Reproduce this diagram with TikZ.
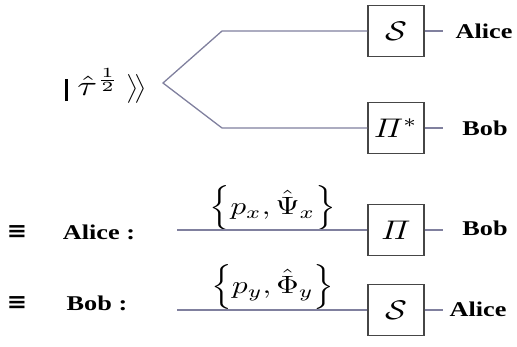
\documentclass[tikz,border=0pt]{standalone}
\usepackage{fontspec}
\setmainfont{Liberation Serif}
\newfontfamily\dejavu{DejaVu Sans}
\usepackage{amsmath,amssymb}
\definecolor{wirec}{RGB}{128,128,158}
\definecolor{gatec}{RGB}{70,70,70}
\newcommand{\wx}[1]{\scalebox{1.25}[1]{#1}}
\newcommand{\wm}[1]{\scalebox{3.2}[2.7]{#1}}
\tikzset{
 wire/.style={draw=wirec, line width=1.3pt},
 gate/.style={draw=gatec, line width=1.2pt, minimum width=56pt, minimum height=51pt, inner sep=0pt, fill=white},
 lab/.style={font=\bfseries\fontsize{21}{25}\selectfont, inner sep=0pt},
 eqv/.style={font=\dejavu\bfseries\fontsize{22}{26}\selectfont, inner sep=0pt},
 mlab/.style={inner sep=0pt},
}
\begin{document}
\begin{tikzpicture}[x=1pt,y=-1pt]
\useasboundingbox (0,0) rectangle (517,346);
% top part
\node[mlab] (ket) at (106,86) {\rule[-6pt]{3.4pt}{22pt}\hspace{9pt}\scalebox{3.6}[2.8]{$\hat{\tau}^{\frac{1}{2}}$}\hspace{7pt}\scalebox{2.6}[2.4]{$\big\rangle\!\big\rangle$}};
\coordinate (v) at (163,83);
\coordinate (tc) at (222,31);
\coordinate (bc) at (222,128);
\node[gate] (s1) at (396,31) {\wm{$\mathcal{S}$}};
\node[gate] (p1) at (396,128) {\wm{$\varPi^{*}$}};
\node[lab] (alice1) at (484,31) {\wx{Alice}};
\node[lab] (bob1) at (485,128) {\wx{Bob}};
\coordinate (s1e) at (443,31);
\coordinate (p1e) at (443,128);
\draw[wire] (s1.west) -- (tc) -- (v) -- (bc) -- (p1.west);
\draw[wire] (s1.east) -- (s1e);
\draw[wire] (p1.east) -- (p1e);
% Alice row
\node[eqv] (eq1) at (17,232) {\scalebox{1.1}[1]{≡}};
\node[lab] (alice2) at (99,232) {\wx{Alice :}};
\coordinate (l1) at (177,230);
\node[gate] (p2) at (396,230) {\wm{$\varPi$}};
\node[mlab] (m1) at (273,208) {\scalebox{3.1}[2.5]{$\Big\{p_x,\hat{\Psi}_x\Big\}$}};
\node[lab] (bob2) at (485,228) {\wx{Bob}};
\coordinate (p2e) at (443,230);
\draw[wire] (l1) -- (p2.west);
\draw[wire] (p2.east) -- (p2e);
% Bob row
\node[eqv] (eq2) at (17,303) {\scalebox{1.1}[1]{≡}};
\node[lab] (bob3) at (97,303) {\wx{Bob :}};
\coordinate (l2) at (177,310);
\node[gate] (s2) at (396,310) {\wm{$\mathcal{S}$}};
\node[mlab] (m2) at (273,287) {\scalebox{3.1}[2.5]{$\Big\{p_y,\hat{\Phi}_y\Big\}$}};
\node[lab] (alice3) at (478,309) {\wx{Alice}};
\coordinate (s2e) at (443,310);
\draw[wire] (l2) -- (s2.west);
\draw[wire] (s2.east) -- (s2e);
\end{tikzpicture}
\end{document}
